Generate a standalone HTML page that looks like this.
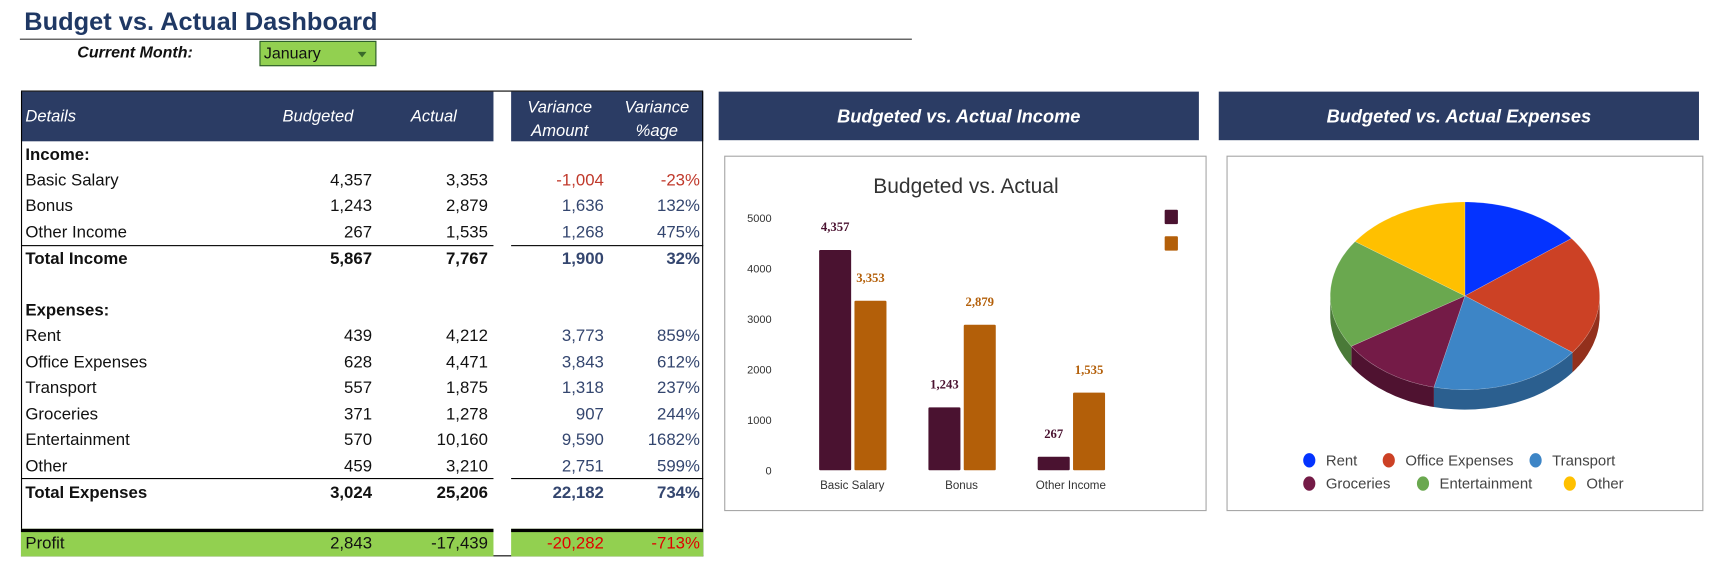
<!DOCTYPE html>
<html><head><meta charset="utf-8"><style>
html,body{margin:0;padding:0;background:#fff;width:1731px;height:578px;overflow:hidden}
#wrap{position:absolute;left:0;top:0;width:1568px;height:524px;transform:scale(1.10395);transform-origin:0 0;font-family:"Liberation Sans",sans-serif}
.abs{position:absolute}
.row{position:absolute;left:0;height:22px;line-height:22px;font-size:15.2px;color:#111;width:640px}
.row span{position:absolute;top:0;white-space:nowrap}
.l{left:23px}
.b{left:200px;width:137px;text-align:right}
.a{left:300px;width:142px;text-align:right}
.v{left:400px;width:147px;text-align:right;color:#34466f}
.p{left:540px;width:94px;text-align:right;color:#34466f}
.bold{font-weight:bold}
.neg{color:#c0392b!important}
.hdr{position:absolute;background:#2b3c64;color:#fff;font-style:italic}
.hline{position:absolute;height:1px;background:#000}
</style></head><body>
<div id="wrap">
  <div class="abs" style="left:22px;top:6px;font-size:23px;font-weight:bold;color:#1f3864">Budget vs. Actual Dashboard</div>
  <div class="abs" style="left:18px;top:35px;width:808px;height:1px;background:#333"></div>
  <div class="abs" style="left:70px;top:40px;font-size:14.5px;font-weight:bold;font-style:italic;color:#111">Current Month:</div>
  <div class="abs" style="left:235px;top:37px;width:104px;height:21px;background:#92d050;border:1px solid #2a5a2a;font-size:14.5px;line-height:22px;color:#111;box-sizing:content-box"><span style="margin-left:3px">January</span><span style="position:absolute;right:8px;top:9px;width:0;height:0;border-left:4px solid transparent;border-right:4px solid transparent;border-top:5px solid #3a6a2a"></span></div>

  <div class="hdr" style="left:19px;top:83px;width:428px;height:45px"></div>
  <div class="hdr" style="left:463px;top:83px;width:174px;height:45px"></div>
  <div class="abs" style="left:23px;top:97px;color:#fff;font-style:italic;font-size:15px">Details</div>
  <div class="abs" style="left:240px;width:96px;text-align:center;top:97px;color:#fff;font-style:italic;font-size:15px">Budgeted</div>
  <div class="abs" style="left:355px;width:76px;text-align:center;top:97px;color:#fff;font-style:italic;font-size:15px">Actual</div>
  <div class="abs" style="left:463px;width:88px;text-align:center;top:87px;color:#fff;font-style:italic;font-size:15px;line-height:21px">Variance<br>Amount</div>
  <div class="abs" style="left:553px;width:84px;text-align:center;top:87px;color:#fff;font-style:italic;font-size:15px;line-height:21px">Variance<br>%age</div>
  <div class="abs" style="left:19px;top:83px;width:1px;height:421px;background:#000"></div>
  <div class="abs" style="left:636px;top:83px;width:1px;height:421px;background:#000"></div>
  <div class="abs" style="left:19px;top:503px;width:618px;height:1px;background:#000"></div>
  <div class="abs" style="left:19px;top:82px;width:618px;height:1px;background:#000"></div>
  <div class="hline" style="left:19px;top:222px;width:428px"></div>
  <div class="hline" style="left:463px;top:222px;width:174px"></div>
  <div class="hline" style="left:19px;top:433px;width:428px"></div>
  <div class="hline" style="left:463px;top:433px;width:174px"></div>
  <div class="abs" style="left:19px;top:479px;width:428px;height:25px;background:#92d050;border-top:3px solid #000;box-sizing:border-box"></div>
  <div class="abs" style="left:463px;top:479px;width:174px;height:25px;background:#92d050;border-top:3px solid #000;box-sizing:border-box"></div>

  <div class="row bold" style="top:130px"><span class="l">Income:</span></div>
  <div class="row" style="top:153px"><span class="l">Basic Salary</span><span class="b">4,357</span><span class="a">3,353</span><span class="v neg">-1,004</span><span class="p neg">-23%</span></div>
  <div class="row" style="top:176px"><span class="l">Bonus</span><span class="b">1,243</span><span class="a">2,879</span><span class="v">1,636</span><span class="p">132%</span></div>
  <div class="row" style="top:200px"><span class="l">Other Income</span><span class="b">267</span><span class="a">1,535</span><span class="v">1,268</span><span class="p">475%</span></div>
  <div class="row bold" style="top:224px"><span class="l">Total Income</span><span class="b">5,867</span><span class="a">7,767</span><span class="v">1,900</span><span class="p">32%</span></div>
  <div class="row bold" style="top:271px"><span class="l">Expenses:</span></div>
  <div class="row" style="top:294px"><span class="l">Rent</span><span class="b">439</span><span class="a">4,212</span><span class="v">3,773</span><span class="p">859%</span></div>
  <div class="row" style="top:318px"><span class="l">Office Expenses</span><span class="b">628</span><span class="a">4,471</span><span class="v">3,843</span><span class="p">612%</span></div>
  <div class="row" style="top:341px"><span class="l">Transport</span><span class="b">557</span><span class="a">1,875</span><span class="v">1,318</span><span class="p">237%</span></div>
  <div class="row" style="top:365px"><span class="l">Groceries</span><span class="b">371</span><span class="a">1,278</span><span class="v">907</span><span class="p">244%</span></div>
  <div class="row" style="top:388px"><span class="l">Entertainment</span><span class="b">570</span><span class="a">10,160</span><span class="v">9,590</span><span class="p">1682%</span></div>
  <div class="row" style="top:412px"><span class="l">Other</span><span class="b">459</span><span class="a">3,210</span><span class="v">2,751</span><span class="p">599%</span></div>
  <div class="row bold" style="top:436px"><span class="l">Total Expenses</span><span class="b">3,024</span><span class="a">25,206</span><span class="v">22,182</span><span class="p">734%</span></div>
  <div class="row" style="top:482px"><span class="l">Profit</span><span class="b">2,843</span><span class="a">-17,439</span><span class="v" style="color:#e00000">-20,282</span><span class="p" style="color:#e00000">-713%</span></div>

  <div class="hdr" style="left:651px;top:83px;width:435px;height:44px;line-height:47px;text-align:center;font-weight:bold;font-size:16.5px">Budgeted vs. Actual Income</div>
  <div class="hdr" style="left:1104px;top:83px;width:435px;height:44px;line-height:47px;text-align:center;font-weight:bold;font-size:16.5px">Budgeted vs. Actual Expenses</div>

  <svg class="abs" style="left:0;top:0" width="1568" height="524">
    <rect x="656.5" y="141.5" width="436" height="321" fill="#fff" stroke="#a6a6a6"/>
    <rect x="1111.5" y="141.5" width="431" height="321" fill="#fff" stroke="#a6a6a6"/>
    <text x="875" y="175" font-size="19" text-anchor="middle" fill="#333" font-family="Liberation Sans, sans-serif">Budgeted vs. Actual</text>
    <g id="bars"></g>
    <rect x="1055" y="190" width="12" height="13" rx="1" fill="#4a1230"/>
    <rect x="1055" y="214" width="12" height="13" rx="1" fill="#b35f09"/>
    <g id="pie"></g>
    <g id="pielegend"></g>
  </svg>
</div>
<script>
const categories = ["Basic Salary", "Bonus", "Other Income"];
const budgeted = [4357, 1243, 267];
const actual = [3353, 2879, 1535];
const yTicks = [0, 1000, 2000, 3000, 4000, 5000];
const pieLabels = ["Rent", "Office Expenses", "Transport", "Groceries", "Entertainment", "Other"];
const pieValues = [439, 628, 557, 371, 570, 459];

const NS = "http://www.w3.org/2000/svg";
function mk(tag, attrs, parent) { const e = document.createElementNS(NS, tag); for (const k in attrs) e.setAttribute(k, attrs[k]); parent.appendChild(e); return e; }
const fmt = v => v.toLocaleString("en-US");

const y0 = 426, yTop = 197, yMax = 5000;
const yScale = v => y0 - (v / yMax) * (y0 - yTop);
const catX = i => 772 + i * 99;
const bw = 29;
const bars = document.getElementById("bars");
yTicks.forEach(t => {
  const tx = mk("text", {x: 699, y: yScale(t) + 4, "font-size": 10, "text-anchor": "end", fill: "#333", "font-family": "Liberation Sans, sans-serif"}, bars);
  tx.textContent = t;
  
  
});
categories.forEach((c, i) => {
  const cx = catX(i);
  const r1 = mk("rect", {x: cx - bw - 1, y: yScale(budgeted[i]), width: bw, height: y0 - yScale(budgeted[i]), fill: "#4a1230", rx: 1}, bars);
  
  
  const r2 = mk("rect", {x: cx + 2, y: yScale(actual[i]), width: bw, height: y0 - yScale(actual[i]), fill: "#b35f09", rx: 1}, bars);
  
  
  const l1 = mk("text", {x: cx - bw / 2 - 1, y: yScale(budgeted[i]) - 17, "font-size": 11.5, "font-weight": "bold", "text-anchor": "middle", fill: "#4a1230", "font-family": "Liberation Serif, serif"}, bars);
  l1.textContent = fmt(budgeted[i]);
  
  
  const l2 = mk("text", {x: cx + 2 + bw / 2, y: yScale(actual[i]) - 17, "font-size": 11.5, "font-weight": "bold", "text-anchor": "middle", fill: "#b35f09", "font-family": "Liberation Serif, serif"}, bars);
  l2.textContent = fmt(actual[i]);
  
  
  const cl = mk("text", {x: cx, y: 443, "font-size": 10.5, "text-anchor": "middle", fill: "#333", "font-family": "Liberation Sans, sans-serif"}, bars);
  cl.textContent = c;
  
  
});

const pcx = 1327, pcy = 268, rx = 122, ry = 85, depth = 18;
const colors = ["#0433ff", "#cc4125", "#3d85c6", "#741b47", "#6aa84f", "#ffc000"];
const dark = ["#0225b0", "#93301c", "#2b5f8f", "#4f1230", "#4a7a38", "#c79500"];
const total = pieValues.reduce((a, b) => a + b, 0);
const pie = document.getElementById("pie");
const pt = (t, dy) => [pcx + rx * Math.cos(t), pcy + ry * Math.sin(t) + (dy || 0)];
let acc = 0;
const slices = pieValues.map(v => { const t1 = -Math.PI / 2 + acc / total * 2 * Math.PI; acc += v; const t2 = -Math.PI / 2 + acc / total * 2 * Math.PI; return [t1, t2]; });
slices.forEach(([t1, t2], i) => {
  const segs = [[0, Math.PI], [2 * Math.PI, 3 * Math.PI]];
  segs.forEach(([a, b]) => {
    const s = Math.max(t1, a), e = Math.min(t2, b);
    if (e <= s) return;
    let d = "";
    const N = 30;
    for (let k = 0; k <= N; k++) { const p = pt(s + (e - s) * k / N); d += (k ? "L" : "M") + p[0].toFixed(1) + "," + p[1].toFixed(1); }
    for (let k = N; k >= 0; k--) { const p = pt(s + (e - s) * k / N, depth); d += "L" + p[0].toFixed(1) + "," + p[1].toFixed(1); }
    const w = mk("path", {d: d + "Z", fill: dark[i]}, pie);
    
    
  });
});
slices.forEach(([t1, t2], i) => {
  let d = "M" + pcx + "," + pcy;
  const N = 40;
  for (let k = 0; k <= N; k++) { const p = pt(t1 + (t2 - t1) * k / N); d += "L" + p[0].toFixed(1) + "," + p[1].toFixed(1); }
  const s = mk("path", {d: d + "Z", fill: colors[i], stroke: "rgba(255,255,255,0.3)", "stroke-width": 0.5}, pie);
  
  
});
const lpos = [[1186, 417], [1258, 417], [1391, 417], [1186, 438], [1289, 438], [1422, 438]];
const leg = document.getElementById("pielegend");
pieLabels.forEach((lab, i) => {
  const [x, y] = lpos[i];
  const c = mk("ellipse", {cx: x, cy: y, rx: 5.5, ry: 6.5, fill: colors[i]}, leg);
  
  
  const t = mk("text", {x: x + 15, y: y + 4.5, "font-size": 13.5, fill: "#444", "font-family": "Liberation Sans, sans-serif"}, leg);
  t.textContent = lab;
  
  
});
</script>
</body></html>
